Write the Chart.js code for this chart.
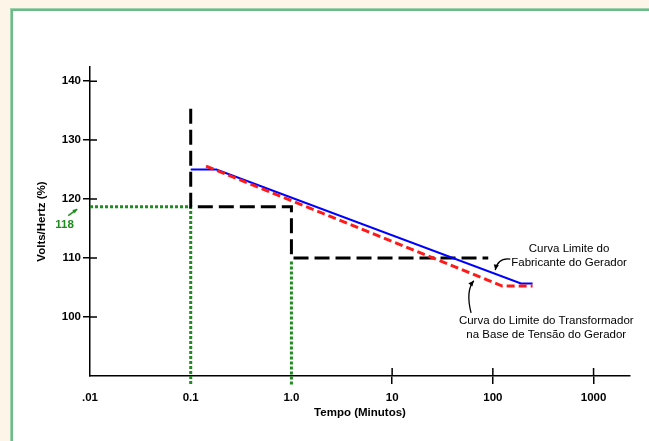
<!DOCTYPE html>
<html><head><meta charset="utf-8">
<script src="https://cdn.jsdelivr.net/npm/chart.js@4.4.1/dist/chart.umd.min.js"></script>
<style>html,body{margin:0;padding:0;background:#fdf5e7;}canvas{display:block;}</style>
</head><body>
<canvas id="c" width="649" height="441"></canvas>
<script>
// ---- data ----
const xTickValues = [0.01, 0.1, 1, 10, 100, 1000];
const xTickLabels = ['.01', '0.1', '1.0', '10', '100', '1000'];
const yTickValues = [100, 110, 120, 130, 140];
const yTickLabels = ['100', '110', '120', '130', '140'];

// transformer step limit (black dashed)
const stepTime = [0.1, 0.1, 1.0, 1.0, 90];
const stepVH   = [135.3, 118.7, 118.7, 110, 110];
// manufacturer limit curve (blue)
const genTime = [0.1, 0.18, 190, 248];
const genVH   = [125, 125, 105.7, 105.7];
// transformer limit on generator voltage base (red dashed)
const xfTime = [0.142, 124, 248];
const xfVH   = [125.6, 105.25, 105.25];
// green guide lines
const guideATime = [0.01, 0.1, 0.1];
const guideAVH   = [118.7, 118.7, 88.5];
const guideBTime = [1.0, 1.0];
const guideBVH   = [109.4, 88.5];

// annotation texts (anchored in data coordinates)
const noteGenLines = ['Curva Limite do', 'Fabricante do Gerador'];
const noteGenAt = [[571, 111.5], [571, 109.15]];
const noteXfLines = ['Curva do Limite do Transformador', 'na Base de Tensão do Gerador'];
const noteXfAt = [[339, 99.3], [339, 96.9]];
const label118 = '118';
const label118At = [0.0056, 115.6];
const arrowGen = [[149, 109.83], [112, 110.1], [105.7, 107.96]];
const arrowXf = [[60.8, 100.7], [53.5, 104.4], [64.6, 106.15]];
const arrow118 = [[0.00608, 117.2], [0.00747, 118.3]];

const pts = (xs, ys) => xs.map((x, i) => ({x: x, y: ys[i]}));

const FONT = '"Liberation Sans", Arial, sans-serif';

const bgPlugin = {
  id: 'bg',
  beforeDraw(chart) {
    const ctx = chart.ctx;
    ctx.save();
    ctx.fillStyle = '#fdf5e7';
    ctx.fillRect(0, 0, 649, 441);
    ctx.fillStyle = '#9fd3ad';
    ctx.fillRect(10, 8, 639, 433);
    ctx.fillStyle = '#6cbb88';
    ctx.fillRect(11, 9, 638, 432);
    ctx.fillStyle = '#ffffff';
    ctx.fillRect(13, 11, 636, 430);
    ctx.restore();
  }
};

function arrowHead(ctx, fx, fy, tx, ty, size, color) {
  const a = Math.atan2(ty - fy, tx - fx);
  ctx.fillStyle = color;
  ctx.beginPath();
  ctx.moveTo(tx, ty);
  ctx.lineTo(tx - size * Math.cos(a - 0.45), ty - size * Math.sin(a - 0.45));
  ctx.lineTo(tx - size * Math.cos(a + 0.45), ty - size * Math.sin(a + 0.45));
  ctx.closePath();
  ctx.fill();
}

const notesPlugin = {
  id: 'notes',
  afterDatasetsDraw(chart) {
    const ctx = chart.ctx;
    const xs = chart.scales.x, ys = chart.scales.y;
    const P = (p) => [xs.getPixelForValue(p[0]), ys.getPixelForValue(p[1])];
    const area = chart.chartArea;
    ctx.save();
    // inner halves of tick marks
    ctx.strokeStyle = '#000';
    ctx.lineWidth = 1.5;
    ctx.beginPath();
    yTickValues.forEach(v => {
      const y = ys.getPixelForValue(v);
      ctx.moveTo(area.left, y); ctx.lineTo(area.left + 7, y);
    });
    xTickValues.forEach(v => {
      if (v < 10) return;
      const x = xs.getPixelForValue(v);
      ctx.moveTo(x, area.bottom); ctx.lineTo(x, area.bottom - 8);
    });
    ctx.stroke();

    // texts
    ctx.fillStyle = '#000';
    ctx.font = '11.5px ' + FONT;
    ctx.textAlign = 'center';
    ctx.textBaseline = 'middle';
    noteGenLines.forEach((t, i) => { const p = P(noteGenAt[i]); ctx.fillText(t, p[0], p[1]); });
    noteXfLines.forEach((t, i) => { const p = P(noteXfAt[i]); ctx.fillText(t, p[0], p[1]); });
    ctx.fillStyle = '#1e8c1e';
    ctx.font = 'bold 11.5px ' + FONT;
    const l = P(label118At);
    ctx.fillText(label118, l[0], l[1]);

    // curved arrows
    [arrowGen, arrowXf].forEach(a => {
      const s = P(a[0]), c = P(a[1]), e = P(a[2]);
      ctx.strokeStyle = '#000';
      ctx.lineWidth = 1.3;
      ctx.beginPath();
      ctx.moveTo(s[0], s[1]);
      ctx.quadraticCurveTo(c[0], c[1], e[0], e[1]);
      ctx.stroke();
      arrowHead(ctx, c[0], c[1], e[0], e[1], 6, '#000');
    });
    // green straight arrow
    const s = P(arrow118[0]), e = P(arrow118[1]);
    ctx.strokeStyle = '#1e8c1e';
    ctx.lineWidth = 1.5;
    ctx.beginPath();
    ctx.moveTo(s[0], s[1]);
    ctx.lineTo(e[0], e[1]);
    ctx.stroke();
    arrowHead(ctx, s[0], s[1], e[0], e[1], 5, '#1e8c1e');
    ctx.restore();
  }
};

const lineDs = (data, color, width, dash, order) => ({
  data: data, borderColor: color, borderWidth: width, borderDash: dash,
  pointRadius: 0, tension: 0, fill: false, clip: false, order: order,
  borderCapStyle: 'butt', borderJoinStyle: 'miter'
});

new Chart(document.getElementById('c'), {
  type: 'line',
  data: {
    datasets: [
      lineDs(pts(guideATime, guideAVH), '#1e8c1e', 3, [3, 2], 5),
      lineDs(pts(guideBTime, guideBVH), '#1e8c1e', 3, [3, 2], 5),
      lineDs(pts(stepTime, stepVH), '#000000', 3, [15, 6], 4),
      lineDs(pts(genTime, genVH), '#0000ff', 2, [], 3),
      lineDs(pts(xfTime, xfVH), '#ff1a1a', 3, [8, 4], 2)
    ]
  },
  options: {
    responsive: false,
    animation: false,
    events: [],
    layout: {padding: {left: 0, right: 19, top: 67, bottom: 0}},
    plugins: {legend: {display: false}, tooltip: {enabled: false}},
    scales: {
      x: {
        type: 'logarithmic',
        min: 0.01, max: 2300,
        afterFit(s) { s.height = 65; },
        afterBuildTicks(s) { s.ticks = xTickValues.map(v => ({value: v})); },
        ticks: {
          autoSkip: false, maxRotation: 0, padding: 7,
          color: '#000', font: {family: FONT, size: 11.5, weight: 'bold'},
          callback: (v) => { const i = xTickValues.indexOf(v); return i >= 0 ? xTickLabels[i] : ''; }
        },
        grid: {
          drawOnChartArea: false, drawTicks: true, tickLength: 8, lineWidth: 1.5,
          color: (c) => (c.tick && c.tick.value >= 10) ? '#000' : 'rgba(0,0,0,0)'
        },
        border: {display: true, color: '#000', width: 1.5},
        title: {display: true, text: 'Tempo (Minutos)', color: '#000',
          font: {family: FONT, size: 11.5, weight: 'bold'}, padding: {top: 0, bottom: 21}}
      },
      y: {
        type: 'linear',
        min: 90, max: 142.4,
        afterFit(s) { s.width = 90; },
        afterBuildTicks(s) { s.ticks = yTickValues.map(v => ({value: v})); },
        ticks: {
          padding: 2, color: '#000', font: {family: FONT, size: 11.5, weight: 'bold'},
          callback: (v) => { const i = yTickValues.indexOf(v); return i >= 0 ? yTickLabels[i] : ''; }
        },
        grid: {drawOnChartArea: false, drawTicks: true, tickLength: 7, lineWidth: 1.5, color: '#000'},
        border: {display: true, color: '#000', width: 1.5},
        title: {display: true, text: 'Volts/Hertz (%)', color: '#000',
          font: {family: FONT, size: 11.5, weight: 'bold'}, padding: {top: 35, bottom: 0}}
      }
    }
  },
  plugins: [bgPlugin, notesPlugin]
});
</script>
</body></html>
